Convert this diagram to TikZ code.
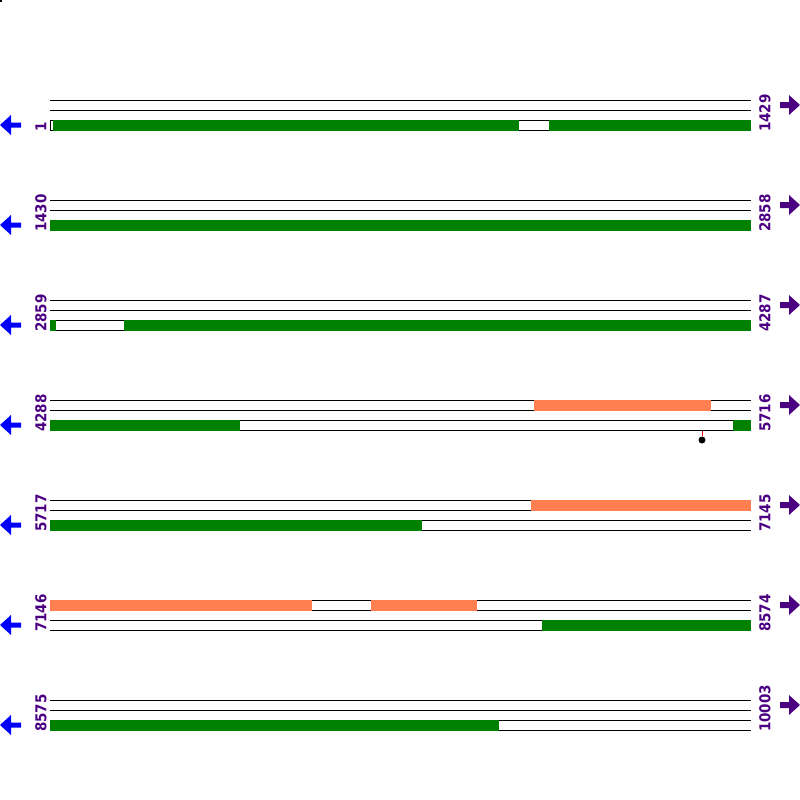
\documentclass[tikz,border=0pt]{standalone}
\usepackage{fontspec}
\setmainfont{DejaVu Sans}
\newfontfamily\labelfont{DejaVu Sans Condensed}
\definecolor{genegreen}{HTML}{008000}
\definecolor{coralc}{HTML}{FF7F50}
\definecolor{indigoc}{HTML}{4B0082}
\begin{document}
\begin{tikzpicture}[x=1pt,y=-1pt,
  track/.style={line width=1pt,black},
  gbar/.style={fill=genegreen},
  obar/.style={fill=coralc},
  poslabel/.style={rotate=90,anchor=west,inner sep=0pt,text=indigoc,font=\labelfont\bfseries\fontsize{15}{17}\selectfont},
  larrow/.style={fill=blue},
  rarrow/.style={fill=indigoc}]
\useasboundingbox (0,0) rectangle (800,800);
\fill (0,0) rectangle (2,2);
\foreach \i/\L/\R in {1/1/1429,2/1430/2858,3/2859/4287,4/4288/5716,5/5717/7145,6/7146/8574,7/8575/10003}{
  \pgfmathsetmacro\yy{\i*100}
  \foreach \d in {0,10,20,30} \draw[track] (50,\yy+\d+0.5) -- (751,\yy+\d+0.5);
  \node[poslabel] (l\i) at (41,\yy+32) {\L};
  \node[poslabel] (r\i) at (765,\yy+32) {\R};
  \fill[larrow] (0,\yy+25) -- (11,\yy+15) -- (11,\yy+22.5) -- (21,\yy+22.5) -- (21,\yy+27.5) -- (11,\yy+27.5) -- (11,\yy+35) -- cycle;
  \fill[rarrow] (800,\yy+5) -- (789,\yy-5) -- (789,\yy+2) -- (780,\yy+2) -- (780,\yy+8) -- (789,\yy+8) -- (789,\yy+15) -- cycle;
}
% row 1
\fill[gbar] (53,120) rectangle (519,131);
\fill[gbar] (549,120) rectangle (751,131);
\draw[track] (50.5,120) -- (50.5,131);
% row 2
\fill[gbar] (50,220) rectangle (751,231);
% row 3
\fill[gbar] (50,320) rectangle (56,331);
\fill[gbar] (124,320) rectangle (751,331);
% row 4
\fill[obar] (534,400) rectangle (711,411);
\fill[gbar] (50,420) rectangle (240,431);
\fill[gbar] (733,420) rectangle (751,431);
\coordinate (lp) at (702,431);
\node[circle,fill=black,inner sep=0pt,minimum size=7pt] (lpd) at (702,440) {};
\draw[red,line width=1pt] (lp) -- (lpd);
% row 5
\fill[obar] (531,500) rectangle (751,511);
\fill[gbar] (50,520) rectangle (422,531);
% row 6
\fill[obar] (50,600) rectangle (312,611);
\fill[obar] (371,600) rectangle (477,611);
\fill[gbar] (542,620) rectangle (751,631);
% row 7
\fill[gbar] (50,720) rectangle (499,731);
\end{tikzpicture}
\end{document}
